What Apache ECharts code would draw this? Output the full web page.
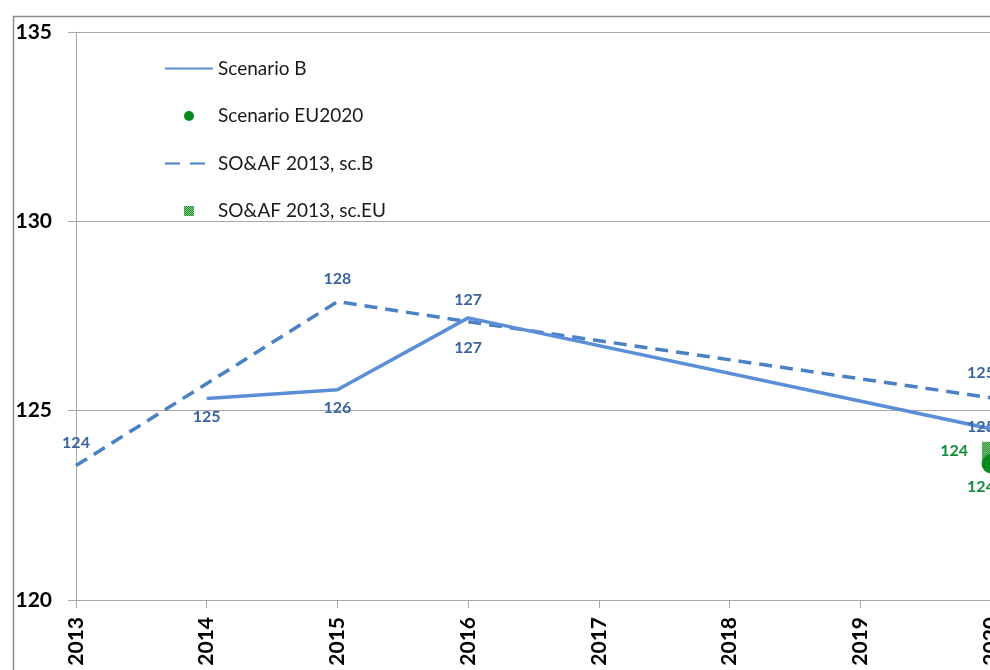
<!DOCTYPE html>
<html>
<head>
<meta charset="utf-8">
<script src="https://cdn.jsdelivr.net/npm/echarts@6/dist/echarts.min.js"></script>
<style>
  html, body { margin: 0; padding: 0; background: #fff; }
  #chart { width: 990px; height: 670px; }
</style>
</head>
<body>
<div id="chart"></div>
<script>
// Years on the category axis
const years = ['2013', '2014', '2015', '2016', '2017', '2018', '2019', '2020'];

// Series values (null = no observation for that year)
const scenarioB      = [null, 125.32, 125.55, 127.45, null, null, null, 124.52];
const scenarioEU2020 = [null, null, null, null, null, null, null, 123.6];
const soafB          = [123.55, null, 127.88, 127.35, null, null, null, 125.34];
const soafEU         = [null, null, null, null, null, null, null, 123.94];

// Value axis range
const yMin = 120, yMax = 135, yStep = 5;

const FONT = 'Lato, "DejaVu Sans", sans-serif';
const BLUE_LABEL = '#3A64A0';
const GREEN_LABEL = '#168A3C';
const SQUARE = 'path://M0,0h10v10h-10z';
const EU_MARKER_SIZE = 18;

// Small checker pattern for the SO&AF sc.EU marker
function checker() {
  const c = document.createElement('canvas');
  c.width = 2; c.height = 2;
  const g = c.getContext('2d');
  g.fillStyle = '#1F8F2E'; g.fillRect(0, 0, 2, 2);
  g.fillStyle = '#86C98A'; g.fillRect(0, 0, 1, 1); g.fillRect(1, 1, 1, 1);
  return c;
}
const tile = checker();
// series symbols are drawn as unit shapes scaled by size/2, so undo that for the fill
const markerPattern = { image: tile, repeat: 'repeat', scaleX: 2 / EU_MARKER_SIZE, scaleY: 2 / EU_MARKER_SIZE };
const legendPattern = { image: tile, repeat: 'repeat' };

// Attach per-point label placement to the values
function withLabels(values, placement, color) {
  return values.map((v, i) => {
    if (v === null) return null;
    const p = placement[i] || { position: 'top' };
    return {
      value: v,
      label: Object.assign({
        show: true, color: color, fontFamily: FONT, fontWeight: 'bold', fontSize: 16,
        distance: 10, formatter: d => String(Math.round(d.value))
      }, p)
    };
  });
}

const chart = echarts.init(document.getElementById('chart'), null, { renderer: 'canvas' });

chart.setOption({
  animation: false,
  backgroundColor: '#ffffff',
  graphic: [{
    type: 'rect', left: 11, top: 14, silent: true,
    shape: { width: 1200, height: 900 },
    style: { fill: 'none', stroke: '#8c8c8c', lineWidth: 1.5 }
  }],
  grid: { left: 76, top: 32, width: 915, height: 568, containLabel: false, outerBoundsMode: 'none' },
  legend: {
    orient: 'vertical', left: 164, top: 59, padding: 0,
    itemWidth: 48, itemHeight: 10, itemGap: 28.5,
    textStyle: { fontFamily: FONT, fontSize: 19, color: '#1a1a1a' },
    data: [
      { name: 'Scenario B' },
      { name: 'Scenario EU2020', icon: 'circle' },
      { name: 'SO&AF 2013, sc.B', lineStyle: { type: [15, 10] } },
      { name: 'SO&AF 2013, sc.EU', icon: SQUARE, itemStyle: { color: legendPattern } }
    ]
  },
  xAxis: {
    type: 'category', data: years, boundaryGap: false,
    axisLine: { lineStyle: { color: '#a6a6a6', width: 1 } },
    axisTick: { show: true, length: 8, alignWithLabel: true, lineStyle: { color: '#a6a6a6' } },
    axisLabel: { rotate: 90, margin: 17, color: '#000', fontFamily: FONT, fontWeight: 'bold', fontSize: 21, interval: 0 },
    splitLine: { show: false }
  },
  yAxis: {
    type: 'value', min: yMin, max: yMax, interval: yStep,
    axisLine: { show: true, lineStyle: { color: '#a6a6a6', width: 1 } },
    axisTick: { show: true, length: 8, lineStyle: { color: '#a6a6a6' } },
    axisLabel: { margin: 24, color: '#000', fontFamily: FONT, fontWeight: 'bold', fontSize: 21 },
    splitLine: { show: true, lineStyle: { color: '#a6a6a6', width: 1 } }
  },
  series: [
    {
      name: 'Scenario B', type: 'line', connectNulls: true,
      symbol: 'circle', symbolSize: 1, showSymbol: true,
      itemStyle: { color: 'rgba(0,0,0,0)' },
      lineStyle: { color: '#5A8ED7', width: 3.5 },
      data: withLabels(scenarioB, {
        1: { position: 'bottom' }, 2: { position: 'bottom' },
        3: { position: 'top' }, 7: { position: 'inside', offset: [-10, -2] }
      }, BLUE_LABEL),
      z: 3
    },
    {
      name: 'Scenario EU2020', type: 'scatter', symbol: 'circle', symbolSize: 19,
      itemStyle: { color: '#0A8A1C', opacity: 1 },
      data: withLabels(scenarioEU2020, { 7: { position: 'bottom', distance: 6, offset: [-10, 0] } }, GREEN_LABEL),
      z: 5
    },
    {
      name: 'SO&AF 2013, sc.B', type: 'line', connectNulls: true,
      symbol: 'circle', symbolSize: 1, showSymbol: true,
      itemStyle: { color: 'rgba(0,0,0,0)' },
      lineStyle: { color: '#4A80C4', width: 3.5, type: [13, 8] },
      data: withLabels(soafB, {
        0: { position: 'top', distance: 14 }, 2: { position: 'top', distance: 14 },
        3: { position: 'bottom', distance: 18 }, 7: { position: 'top', distance: 16, offset: [-10, 0] }
      }, BLUE_LABEL),
      z: 2
    },
    {
      name: 'SO&AF 2013, sc.EU', type: 'scatter', symbol: 'rect', symbolSize: EU_MARKER_SIZE,
      itemStyle: { color: markerPattern, opacity: 1 },
      data: withLabels(soafEU, { 7: { position: 'left', distance: 14 } }, GREEN_LABEL),
      z: 4
    }
  ]
});
</script>
</body>
</html>
